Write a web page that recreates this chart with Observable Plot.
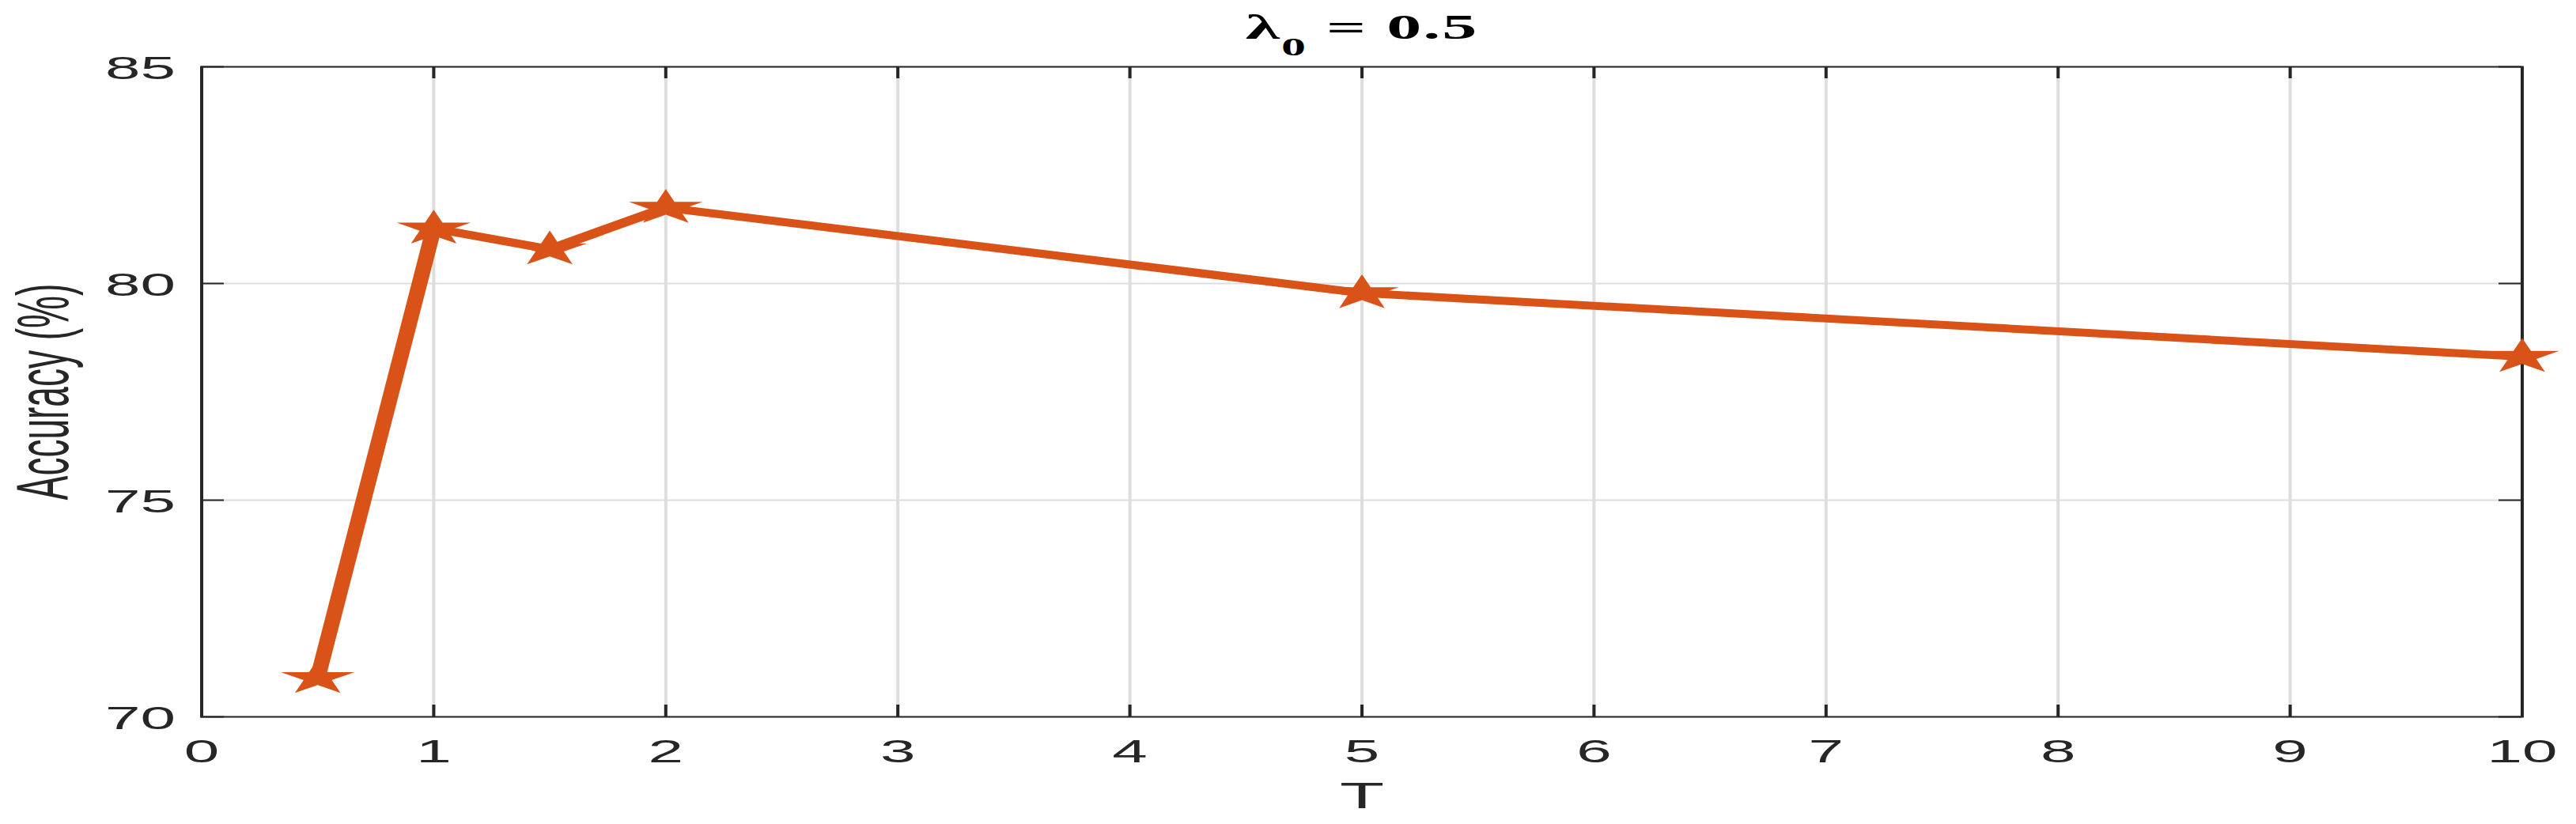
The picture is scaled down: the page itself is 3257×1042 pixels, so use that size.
<!DOCTYPE html>
<html><head><meta charset="utf-8">
<script src="https://cdn.jsdelivr.net/npm/d3@7"></script>
<script src="https://cdn.jsdelivr.net/npm/@observablehq/plot@0.6"></script>
<style>html,body{margin:0;padding:0;background:#fff;} svg{display:block}</style>
</head><body><div id="chart"></div>
<script>
// ---- data ----
const T = [0.5, 1, 1.5, 2, 5, 10];
const accuracy = [70.9, 81.27, 80.79, 81.75, 79.78, 78.31];
const xTicks = [0, 1, 2, 3, 4, 5, 6, 7, 8, 9, 10];
const yTicks = [70, 75, 80, 85];
const titleMain = "λ", titleSub = "0", titleRest = " = 0.5";
const xLabel = "T", yLabel = "Accuracy (%)";

const data = T.map((t, i) => ({T: t, acc: accuracy[i]}));

// ---- layout (chart is drawn narrow and stretched horizontally like the reference) ----
const SX = 2;
const W = 3257, H = 1042;
const W0 = W / SX;
const mL = 127, mR = W0 - 1594, mT = 84, mB = H - 906;
const plotW = W0 - mL - mR, plotH = H - mT - mB;
const ink = "#262626", orange = "#D95319", gridC = "#dedede";

const star = {
  draw(ctx, size) {
    const R = Math.sqrt(size / Math.PI), r = R * 0.382, kx = 1.04;
    for (let i = 0; i < 10; i++) {
      const a = -Math.PI / 2 + i * Math.PI / 5, rad = i % 2 ? r : R;
      const x = Math.cos(a) * rad * kx, y = Math.sin(a) * rad;
      i ? ctx.lineTo(x, y) : ctx.moveTo(x, y);
    }
    ctx.closePath();
  }
};

const fmt = d => String(d);

const chart = Plot.plot({
  width: W0, height: H,
  marginLeft: mL, marginRight: mR, marginTop: mT, marginBottom: mB,
  style: {fontFamily: "'Liberation Sans', Arial, Helvetica, sans-serif", background: "#fff", overflow: "visible"},
  x: {domain: [0, 10]},
  y: {domain: [70, 85]},
  marks: [
    Plot.gridX(xTicks, {stroke: gridC, strokeOpacity: 1, strokeWidth: 2}),
    Plot.gridY(yTicks, {stroke: gridC, strokeOpacity: 1, strokeWidth: 2}),
    Plot.frame({stroke: ink, strokeWidth: 2}),
    // inward ticks on all four sides
    Plot.ruleX(xTicks, {x: d => d, stroke: ink, strokeWidth: 2, insetBottom: plotH - 15}),
    Plot.ruleX(xTicks, {x: d => d, stroke: ink, strokeWidth: 2, insetTop: plotH - 15}),
    Plot.ruleY(yTicks, {y: d => d, stroke: ink, strokeWidth: 2, insetRight: plotW - 14.5}),
    Plot.ruleY(yTicks, {y: d => d, stroke: ink, strokeWidth: 2, insetLeft: plotW - 14.5}),
    Plot.axisX(xTicks, {anchor: "bottom", tickSize: 0, tickPadding: 29, fontSize: 40, color: ink, label: null, tickFormat: fmt}),
    Plot.axisY(yTicks, {anchor: "left", tickSize: 0, tickPadding: 16.5, fontSize: 40, color: ink, label: null, dy: 3, tickFormat: fmt}),
    Plot.text([xLabel], {text: d => d, frameAnchor: "bottom", dy: 115, lineAnchor: "bottom", fontSize: 46, fill: ink}),
    Plot.text([yLabel], {text: d => d, frameAnchor: "left", dx: 28 - mL, rotate: -90, textAnchor: "middle", lineAnchor: "middle", fontSize: 46, fill: ink}),
    Plot.text([titleMain + titleSub + titleRest], {text: d => d, frameAnchor: "top", dy: 48 - mT, lineAnchor: "bottom",
      fontSize: 44, fontWeight: "bold", fontFamily: "'Liberation Serif', 'Times New Roman', serif", fill: "#000"}),
    Plot.line(data, {x: "T", y: "acc", stroke: orange, strokeWidth: 10, strokeLinejoin: "round", strokeLinecap: "butt"}),
    Plot.dot(data, {x: "T", y: "acc", symbol: star, r: 23.6, fill: orange, stroke: "none"})
  ]
});

// subscript for the title
const ns = "http://www.w3.org/2000/svg";
chart.querySelectorAll("text").forEach(t => {
  if (t.textContent === titleMain + titleSub + titleRest) {
    t.textContent = "";
    t.setAttribute("letter-spacing", "1");
    t.append(titleMain);
    const sub = document.createElementNS(ns, "tspan");
    sub.setAttribute("font-size", "31");
    sub.setAttribute("dy", "21");
    sub.textContent = titleSub;
    const rest = document.createElementNS(ns, "tspan");
    rest.setAttribute("dy", "-21");
    rest.textContent = titleRest;
    t.append(sub, rest);
  }
});

// stretch horizontally to the full window width
chart.setAttribute("width", W);
chart.setAttribute("height", H);
chart.setAttribute("preserveAspectRatio", "none");
chart.style.width = W + "px";
chart.style.height = H + "px";
chart.style.maxWidth = "none";
document.getElementById("chart").append(chart);
</script>
</body></html>
